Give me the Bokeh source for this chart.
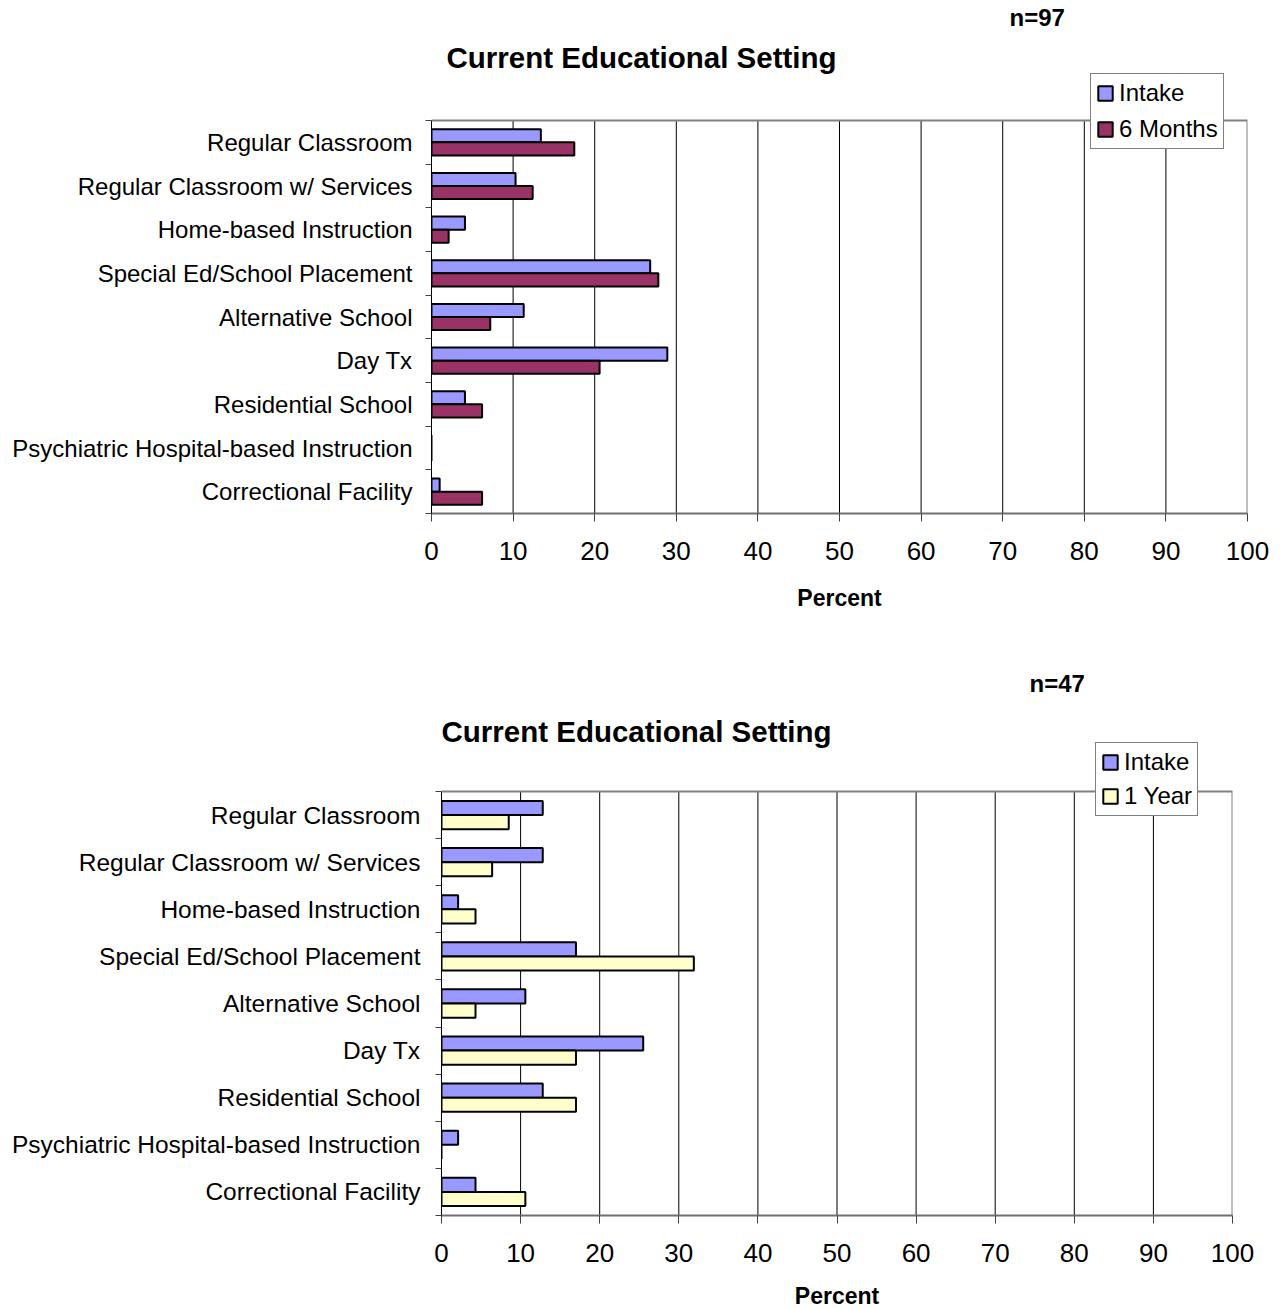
from bokeh.plotting import figure
from bokeh.models import ColumnDataSource, FixedTicker, Legend, LegendItem, Label, Range1d
from bokeh.layouts import column
from bokeh.transform import dodge
from bokeh.embed import file_html
from bokeh.resources import INLINE

FONT = "Liberation Sans"

categories = [
    "Regular Classroom",
    "Regular Classroom w/ Services",
    "Home-based Instruction",
    "Special Ed/School Placement",
    "Alternative School",
    "Day Tx",
    "Residential School",
    "Psychiatric Hospital-based Instruction",
    "Correctional Facility",
]
x_ticks = [0, 10, 20, 30, 40, 50, 60, 70, 80, 90, 100]

# Chart 1 (n=97): Intake vs 6 Months, percent
intake_97 = [13.4, 10.3, 4.1, 26.8, 11.3, 28.9, 4.1, 0.0, 1.0]
months6_97 = [17.5, 12.4, 2.1, 27.8, 7.2, 20.6, 6.2, 0.0, 6.2]

# Chart 2 (n=47): Intake vs 1 Year, percent
intake_47 = [12.8, 12.8, 2.1, 17.0, 10.6, 25.5, 12.8, 2.1, 4.3]
year1_47 = [8.5, 6.4, 4.3, 31.9, 4.3, 17.0, 17.0, 0.0, 10.6]


def make_chart(title, n_text, intake, follow, follow_label, follow_color,
               fw, fh, cat_h, bl, bb, title_xy, n_xy, legend_xy, legend_spacing,
               cat_font, cat_standoff, tick_standoff, label_standoff):
    n = len(categories)
    y_center = [n - i - 0.5 for i in range(n)]
    src = ColumnDataSource(dict(y=y_center, intake=intake, follow=follow))
    # the frame extends above the category area so that the titles and the
    # legend (which straddles the plot border) can be drawn inside it
    y_top = n * fh / cat_h
    p = figure(frame_width=fw, frame_height=fh,
               x_range=Range1d(0, 100), y_range=Range1d(0, y_top),
               output_backend="svg", toolbar_location=None,
               min_border_left=bl, min_border_right=1270 - bl - fw,
               min_border_top=0, min_border_bottom=bb)
    p.frame_align = False
    p.background_fill_color = "white"
    p.border_fill_color = "white"
    p.outline_line_color = None
    p.xgrid.grid_line_color = None
    p.ygrid.grid_line_color = None

    # vertical grid lines over the category area
    inner = x_ticks[1:-1]
    p.segment(x0=inner, y0=[0] * len(inner), x1=inner, y1=[n] * len(inner),
              line_color="black", line_width=1)
    # plot-area border (top and right)
    p.line(x=[x_ticks[0], x_ticks[-1], x_ticks[-1]], y=[n, n, 0],
           line_color="#808080", line_width=2)

    r1 = p.hbar(y=dodge("y", 0.15, range=p.y_range), right="intake", left=0,
                height=0.3, source=src, fill_color="#9999FF",
                line_color="black", line_width=2)
    r2 = p.hbar(y=dodge("y", -0.15, range=p.y_range), right="follow", left=0,
                height=0.3, source=src, fill_color=follow_color,
                line_color="black", line_width=2)

    # x axis
    xa = p.xaxis[0]
    xa.ticker = FixedTicker(ticks=x_ticks)
    xa.major_label_text_font = FONT
    xa.major_label_text_font_size = "26px"
    xa.major_label_text_color = "black"
    xa.axis_line_color = "#707070"
    xa.axis_line_width = 2
    xa.major_tick_out = 8
    xa.major_tick_in = 0
    xa.major_tick_line_color = "#404040"
    xa.minor_tick_line_color = None
    xa.major_label_standoff = tick_standoff
    xa.axis_label = "Percent"
    xa.axis_label_text_font = FONT
    xa.axis_label_text_font_size = "23px"
    xa.axis_label_text_font_style = "bold"
    xa.axis_label_text_color = "black"
    xa.axis_label_standoff = label_standoff

    # y axis: labels at category centres, tick marks at category boundaries
    ya = p.yaxis[0]
    ya.bounds = (0, n)
    ya.ticker = FixedTicker(ticks=y_center, minor_ticks=list(range(n + 1)))
    ya.major_label_overrides = {yc: c for yc, c in zip(y_center, categories)}
    ya.major_label_text_font = FONT
    ya.major_label_text_font_size = cat_font
    ya.major_label_text_color = "black"
    ya.major_tick_out = 0
    ya.major_tick_in = 0
    ya.minor_tick_out = 6
    ya.minor_tick_in = 0
    ya.minor_tick_line_color = "#404040"
    ya.axis_line_color = "black"
    ya.axis_line_width = 1
    ya.major_label_standoff = cat_standoff

    legend = Legend(items=[LegendItem(label="Intake", renderers=[r1]),
                           LegendItem(label=follow_label, renderers=[r2])],
                    location=legend_xy)
    legend.label_text_font = FONT
    legend.label_text_font_size = "24px"
    legend.label_text_color = "black"
    legend.glyph_width = 18
    legend.glyph_height = 18
    legend.label_standoff = 5
    legend.label_height = 24
    legend.padding = 5
    legend.spacing = legend_spacing
    legend.margin = 0
    legend.border_line_color = "black"
    legend.border_line_width = 1
    legend.background_fill_color = "white"
    legend.background_fill_alpha = 1
    p.add_layout(legend)

    p.add_layout(Label(x=title_xy[0], y=title_xy[1], x_units="screen", y_units="screen",
                       text=title, text_font=FONT, text_font_size="29.5px",
                       text_font_style="bold", text_color="black",
                       text_baseline="middle", text_align="left"))
    p.add_layout(Label(x=n_xy[0], y=n_xy[1], x_units="screen", y_units="screen",
                       text=n_text, text_font=FONT, text_font_size="24px",
                       text_font_style="bold", text_color="black",
                       text_baseline="middle", text_align="left"))
    return p


p1 = make_chart("Current Educational Setting", "n=97", intake_97, months6_97,
                "6 Months", "#993366",
                fw=816, fh=513, cat_h=393, bl=431, bb=138,
                title_xy=(15, 456), n_xy=(578, 496), legend_xy=(659, 364),
                legend_spacing=8, cat_font="24px", cat_standoff=13,
                tick_standoff=20, label_standoff=22)
p2 = make_chart("Current Educational Setting", "n=47", intake_47, year1_47,
                "1 Year", "#FFFFCC",
                fw=791, fh=564, cat_h=424, bl=441, bb=94,
                title_xy=(0, 484), n_xy=(588, 532), legend_xy=(654, 399),
                legend_spacing=6, cat_font="24.5px", cat_standoff=15,
                tick_standoff=20, label_standoff=18)

layout = column(p1, p2, spacing=0)
open("out.html", "w").write(file_html(layout, INLINE))
